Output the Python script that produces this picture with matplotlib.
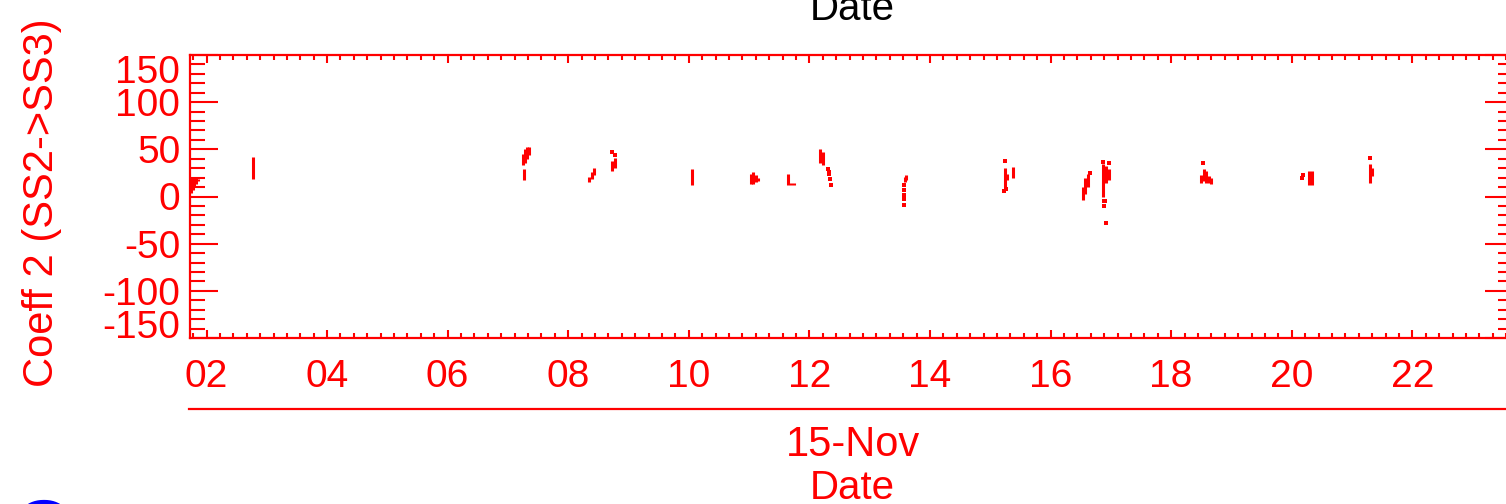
import matplotlib
matplotlib.use("Agg")
import matplotlib.pyplot as plt
from matplotlib.ticker import MultipleLocator

# hours of 15-Nov; vertical runs of densely packed samples
seg_x = [1.74, 1.77, 1.80, 1.83, 1.86,
         2.77,
         7.25, 7.28, 7.32, 7.35, 7.26,
         8.35, 8.40, 8.43,
         8.72, 8.78,
         10.05,
         11.03, 11.07, 11.11, 11.14,
         11.65, 11.70, 11.74,
         12.18, 12.22,
         13.58, 13.61,
         15.24, 15.28, 15.37,
         16.53, 16.57, 16.62,
         16.87, 16.92, 16.97,
         18.50, 18.55, 18.58, 18.62, 18.66,
         20.29, 20.33,
         21.30, 21.33]
seg_lo = [4, 7, 10, 13, 16,
          19,
          33, 36, 40, 44, 18,
          15, 19, 23,
          27, 30,
          12,
          13, 13, 15, 16,
          12, 12, 12,
          36, 33,
          15, 17,
          10, 18, 20,
          -4, 3, 10,
          0, 14, 17,
          14, 16, 14, 14, 13,
          12, 12,
          14, 22]
seg_hi = [21, 21, 20, 20, 19,
          42,
          45, 50, 53, 53, 29,
          21, 26, 30,
          38, 41,
          29,
          24, 26, 23, 20,
          24, 14, 14,
          50, 47,
          21, 23,
          30, 24, 31,
          10, 20, 24,
          34, 32, 29,
          23, 29, 27, 22, 20,
          27, 27,
          34, 30]

# isolated samples
dot_x = [8.73, 8.78, 12.30, 12.32, 12.33, 12.34, 12.35,
         13.57, 13.57, 13.57, 13.57, 13.57,
         15.25, 15.23, 15.26, 16.65,
         16.87, 16.97, 16.88, 16.90, 16.88, 16.92,
         18.52, 20.17, 20.18, 21.30]
dot_y = [47, 44, 29, 26, 24, 19, 12,
         12, 7, 2, -3, -9,
         38, 6, 8, 25,
         37, 36, -5, -5, -10, -28,
         36, 20, 23, 41]

yticks = [-150, -100, -50, 0, 50, 100, 150]
ylabels = ["-150", "-100", "-50", "0", "50", "100", "150"]
xticks = [2, 4, 6, 8, 10, 12, 14, 16, 18, 20, 22]
xlabels = ["%02d" % h for h in xticks]

RED = "#ff0000"
plt.rcParams["font.family"] = ["Liberation Sans", "DejaVu Sans"]

W, H = 1506, 504
fig = plt.figure(figsize=(W / 100, H / 100), dpi=100)
ax = fig.add_axes([190 / W, 1 - 338 / H, (1513 - 190) / W, (338 - 55) / H])

ax.vlines(seg_x, seg_lo, seg_hi, color=RED, lw=2.2)
ax.plot(dot_x, dot_y, "s", color=RED, ms=2.2, mew=0)

ax.set_xlim(1.726, 23.67)
ax.set_ylim(-150, 150)

ax.set_xticks(xticks)
ax.set_xticklabels(xlabels)
ax.xaxis.set_minor_locator(MultipleLocator(2 / 9))
ax.set_yticks(yticks)
ax.set_yticklabels(ylabels)
ax.yaxis.set_minor_locator(MultipleLocator(10))

for s in ax.spines.values():
    s.set_color(RED)
    s.set_linewidth(1.6)

ax.tick_params(axis="both", which="both", direction="in", colors=RED,
               top=True, right=True, width=1.5, labelsize=28)
ax.tick_params(axis="x", which="major", length=6, pad=15)
ax.tick_params(axis="x", which="minor", length=3.5)
ax.tick_params(axis="y", which="major", length=20, pad=7)
ax.tick_params(axis="y", which="minor", length=10.5)

ylabs = ax.get_yticklabels()
ylabs[-1].set_va("top")
ylabs[0].set_va("baseline")

def px(x, y):
    return x / W, 1 - y / H

fig.text(*px(42, 203), "Coeff 2 (SS2->SS3)", rotation=90, color=RED,
         fontsize=30, ha="center", va="center")
fig.add_artist(plt.Line2D([189 / W, 1.0], [1 - 409 / H, 1 - 409 / H],
                          color=RED, lw=1.6))
fig.text(*px(853, 445), "15-Nov", color=RED, fontsize=30,
         ha="center", va="center")
fig.text(*px(852, 488), "Date", color=RED, fontsize=29,
         ha="center", va="center")
fig.text(*px(852, 9), "Date", color="black", fontsize=29,
         ha="center", va="center")
# top of a glyph from the panel below, cut by the image edge
fig.text(*px(40, 506), "(", color="blue", fontsize=34, rotation=-90,
         ha="center", va="center")

fig.savefig("out.png", dpi=100)
